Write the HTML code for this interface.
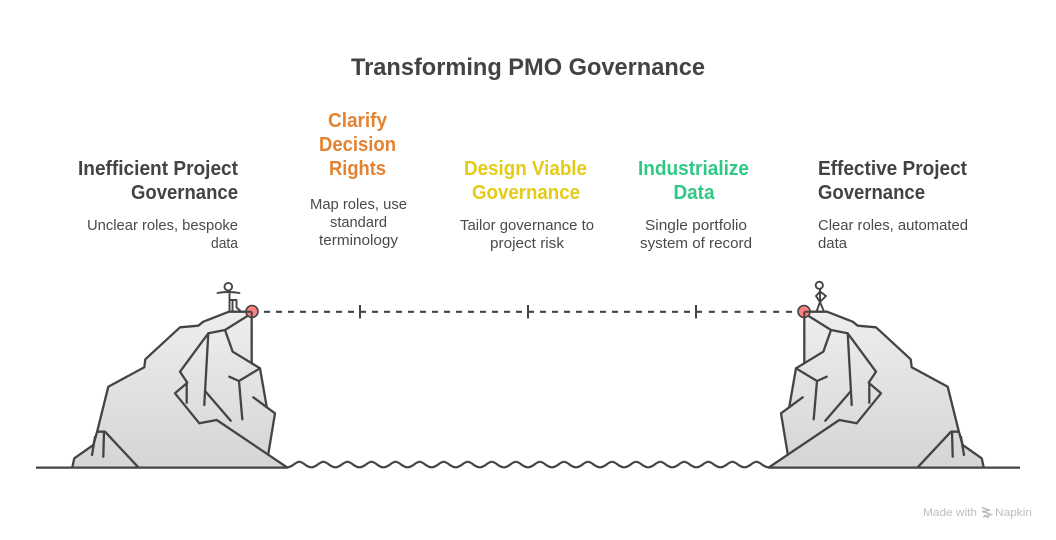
<!DOCTYPE html>
<html><head><meta charset="utf-8"><style>
html,body{margin:0;padding:0;background:#fff}
svg{display:block}
text{font-family:"Liberation Sans",sans-serif;fill:#434343}
.h{font-size:20px;font-weight:700}
.b{font-size:14.7px;fill:#4a4a4a}
</style></head><body>
<svg width="1056" height="540" viewBox="0 0 1056 540" xmlns="http://www.w3.org/2000/svg">
<defs>
<linearGradient id="g" gradientUnits="userSpaceOnUse" x1="0" y1="311" x2="0" y2="467"><stop offset="0" stop-color="#eeeeee"/><stop offset="1" stop-color="#d5d5d5"/></linearGradient>
<g id="rock" fill="none" stroke="#444" stroke-width="2.3" stroke-linejoin="round" stroke-linecap="round">
<path d="M72.3 467.3L74.3 458.3L93.3 445L97.3 431L108.3 386.7L144.3 367.3L145.3 359.3L180 327.3L198.3 325.7L203.3 321.7L229 311.7L251.7 311.7L251.7 363.3L260 368.3L266.7 406.7L275 413.3L268.3 454L287 467.3Z" fill="url(#g)" stroke="none"/>
<path d="M72.3 467.3L74.3 458.3L93.3 445L97.3 431L108.3 386.7L144.3 367.3L145.3 359.3L180 327.3L198.3 325.7L203.3 321.7L229 311.7L251.7 311.7L251.7 363.3"/>
<path d="M251.7 313.3L225 330L232.7 351.7L260 368.3L266.7 406.7"/>
<path d="M225 330L208.3 333.3L180 371.7L187.3 382.7L175 393.3L199.3 423.3L216.7 420L287 467.3"/>
<path d="M208.3 333.3L204.3 405M205.7 391.7L230.7 420.7M186.7 383.3L186.7 402.7"/>
<path d="M260 368.3L239 381L242.3 419.3M229.3 376.7L239 381M253.3 397.3L275 413.3L268.3 454"/>
<path d="M97.3 431.7L105 431.7L138.3 467.3M104 431.7L103.3 456.7M95 437L92 455"/>
</g>
</defs>

<text x="351" y="75" font-size="24" font-weight="700" textLength="354" lengthAdjust="spacingAndGlyphs">Transforming PMO Governance</text>

<text class="h" x="78" y="175" textLength="160" lengthAdjust="spacingAndGlyphs">Inefficient Project</text>
<text class="h" x="131" y="199" textLength="107" lengthAdjust="spacingAndGlyphs">Governance</text>
<text class="b" x="87" y="230" textLength="151" lengthAdjust="spacingAndGlyphs">Unclear roles, bespoke</text>
<text class="b" x="211" y="248" textLength="27" lengthAdjust="spacingAndGlyphs">data</text>

<text class="h" x="328" y="127" textLength="59" lengthAdjust="spacingAndGlyphs" style="fill:#e38331">Clarify</text>
<text class="h" x="319" y="151" textLength="77" lengthAdjust="spacingAndGlyphs" style="fill:#e38331">Decision</text>
<text class="h" x="329" y="175" textLength="57" lengthAdjust="spacingAndGlyphs" style="fill:#e38331">Rights</text>
<text class="b" x="310" y="209" textLength="97" lengthAdjust="spacingAndGlyphs">Map roles, use</text>
<text class="b" x="330" y="227" textLength="57" lengthAdjust="spacingAndGlyphs">standard</text>
<text class="b" x="319" y="245" textLength="79" lengthAdjust="spacingAndGlyphs">terminology</text>

<text class="h" x="464" y="175" textLength="123" lengthAdjust="spacingAndGlyphs" style="fill:#e3cc16">Design Viable</text>
<text class="h" x="472" y="199" textLength="108" lengthAdjust="spacingAndGlyphs" style="fill:#e3cc16">Governance</text>
<text class="b" x="460" y="230" textLength="134" lengthAdjust="spacingAndGlyphs">Tailor governance to</text>
<text class="b" x="490" y="248" textLength="74" lengthAdjust="spacingAndGlyphs">project risk</text>

<text class="h" x="638" y="175" textLength="111" lengthAdjust="spacingAndGlyphs" style="fill:#2fc984">Industrialize</text>
<text class="h" x="673.5" y="199" textLength="41" lengthAdjust="spacingAndGlyphs" style="fill:#2fc984">Data</text>
<text class="b" x="645" y="230" textLength="102" lengthAdjust="spacingAndGlyphs">Single portfolio</text>
<text class="b" x="640" y="248" textLength="112" lengthAdjust="spacingAndGlyphs">system of record</text>

<text class="h" x="818" y="175" textLength="149" lengthAdjust="spacingAndGlyphs">Effective Project</text>
<text class="h" x="818" y="199" textLength="107" lengthAdjust="spacingAndGlyphs">Governance</text>
<text class="b" x="818" y="230" textLength="150" lengthAdjust="spacingAndGlyphs">Clear roles, automated</text>
<text class="b" x="818" y="248" textLength="29" lengthAdjust="spacingAndGlyphs">data</text>

<use href="#rock"/>
<use href="#rock" transform="translate(1056 0) scale(-1 1)"/>

<path d="M36 467.6H288M768 467.6H1020" stroke="#444" stroke-width="2.2" fill="none"/>
<path fill="none" stroke="#444" stroke-width="2.2" stroke-linecap="round" stroke-linejoin="round" d="M287.3 467.3c5.5 0 7.5-5.5 12.03-5.5s6.5 5.5 12.03 5.5c5.5 0 7.5-5.5 12.03-5.5s6.5 5.5 12.03 5.5c5.5 0 7.5-5.5 12.03-5.5s6.5 5.5 12.03 5.5c5.5 0 7.5-5.5 12.03-5.5s6.5 5.5 12.03 5.5c5.5 0 7.5-5.5 12.03-5.5s6.5 5.5 12.03 5.5c5.5 0 7.5-5.5 12.03-5.5s6.5 5.5 12.03 5.5c5.5 0 7.5-5.5 12.03-5.5s6.5 5.5 12.03 5.5c5.5 0 7.5-5.5 12.03-5.5s6.5 5.5 12.03 5.5c5.5 0 7.5-5.5 12.03-5.5s6.5 5.5 12.03 5.5c5.5 0 7.5-5.5 12.03-5.5s6.5 5.5 12.03 5.5c5.5 0 7.5-5.5 12.03-5.5s6.5 5.5 12.03 5.5c5.5 0 7.5-5.5 12.03-5.5s6.5 5.5 12.03 5.5c5.5 0 7.5-5.5 12.03-5.5s6.5 5.5 12.03 5.5c5.5 0 7.5-5.5 12.03-5.5s6.5 5.5 12.03 5.5c5.5 0 7.5-5.5 12.03-5.5s6.5 5.5 12.03 5.5c5.5 0 7.5-5.5 12.03-5.5s6.5 5.5 12.03 5.5c5.5 0 7.5-5.5 12.03-5.5s6.5 5.5 12.03 5.5c5.5 0 7.5-5.5 12.03-5.5s6.5 5.5 12.03 5.5c5.5 0 7.5-5.5 12.03-5.5s6.5 5.5 12.03 5.5c5.5 0 7.5-5.5 12.03-5.5s6.5 5.5 12.03 5.5"/>

<path d="M264 311.8H696" stroke="#444" stroke-width="2.2" stroke-dasharray="6 6" fill="none"/>
<path d="M696 311.8H792" stroke="#444" stroke-width="2.2" stroke-dasharray="6 6.86" fill="none"/>
<path d="M360 305V318.5M528 305V318.5M696 305V318.5" stroke="#444" stroke-width="2" fill="none"/>

<circle cx="252" cy="311.5" r="6" fill="#ff8080" stroke="#444" stroke-width="1.6"/>
<circle cx="804" cy="311.5" r="6" fill="#ff8080" stroke="#444" stroke-width="1.6"/>
<path d="M251.7 311.7H246M251.7 311.7V317" stroke="#444" stroke-width="2" fill="none"/>
<path d="M804.3 311.7H810M804.3 311.7V317" stroke="#444" stroke-width="2" fill="none"/>

<g fill="none" stroke="#444" stroke-width="1.9" stroke-linecap="round" stroke-linejoin="round">
<circle cx="228.3" cy="286.7" r="3.8"/>
<path d="M217.5 293Q228 291 239.5 293M229.5 291V311M230 300H236.5V307.5L240 310.5M232.5 300V311"/>
<circle cx="819.3" cy="285.3" r="3.6"/>
<path d="M820 291.5L816 296L820 302L826 296L820 291.5M820 289V302M820 302L816.5 311.5M820 302L824 311.5"/>
</g>

<text x="923" y="516" font-size="11" style="fill:#bdbdbd" textLength="54" lengthAdjust="spacingAndGlyphs">Made with</text>
<path d="M982 507.5L989 510L982 512M982 511L991 514.5L983 517M984 515.5L989 517.5" fill="none" stroke="#bdbdbd" stroke-width="1.5"/>
<text x="995" y="516" font-size="11" style="fill:#bdbdbd" textLength="37" lengthAdjust="spacingAndGlyphs">Napkin</text>
</svg>
</body></html>
